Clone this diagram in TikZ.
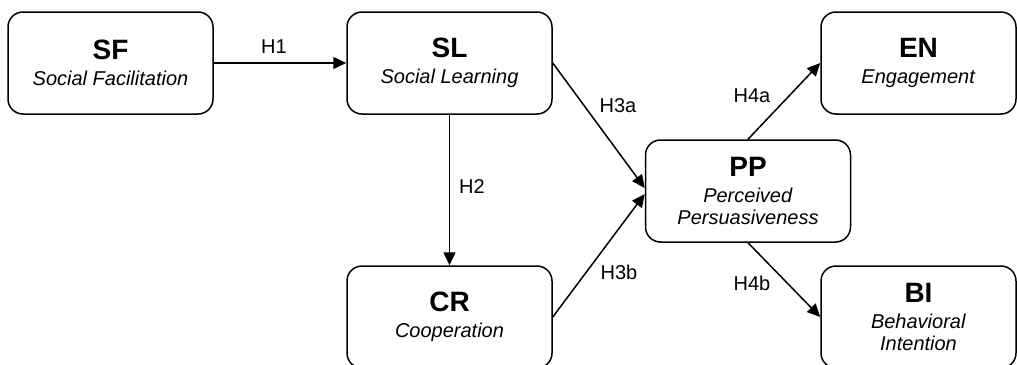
\documentclass[tikz,border=0pt]{standalone}
\usepackage{fontspec}
\setmainfont{Liberation Sans}
\usetikzlibrary{arrows.meta}

\begin{document}
\begin{tikzpicture}[x=0.5pt, y=-0.5pt, line width=0.75pt,
  box/.style={draw, rounded corners=7.5pt, minimum width=102.5pt, minimum height=51pt,
    inner sep=0pt, align=center, font=\fontsize{10}{11}\selectfont},
  conn/.style={-{Triangle[length=6.5pt, width=6pt]}},
  lbl/.style={font=\fontsize{10}{12}\selectfont, inner sep=0pt}]
  \useasboundingbox (0,0) rectangle (1017,364);
  % constructs
  \node[box] (SF) at (110.5,63) {{\fontsize{14}{14}\selectfont\bfseries SF}\\[2pt]\textit{Social Facilitation}};
  \node[box] (SL) at (449.5,63) {{\fontsize{14}{14}\selectfont\bfseries SL}\\[2pt]\textit{Social Learning}};
  \node[box] (CR) at (449.5,317) {{\fontsize{14}{14}\selectfont\bfseries CR}\\[2pt]\textit{Cooperation}};
  \node[box] (PP) at (748,191) {{\fontsize{14}{14}\selectfont\bfseries PP}\\[2pt]\textit{Perceived}\\\textit{Persuasiveness}};
  \node[box, minimum width=97.5pt] (EN) at (918.5,63) {{\fontsize{14}{14}\selectfont\bfseries EN}\\[2pt]\textit{Engagement}};
  \node[box, minimum width=97.5pt] (BI) at (918.5,317) {{\fontsize{14}{14}\selectfont\bfseries BI}\\[2pt]\textit{Behavioral}\\\textit{Intention}};
  % hypotheses
  \draw[conn] (SF) -- (SL);
  \draw[conn] (SL) -- (CR);
  \draw[conn] (SL.east) -- ([yshift=1.5pt]PP.west);
  \draw[conn] (CR.east) -- ([yshift=-1.5pt]PP.west);
  \draw[conn] (PP.north) -- (EN.west);
  \draw[conn] (PP.south) -- (BI.west);
  \node[lbl] (h1) at (274,47) {H1};
  \node[lbl] (h2) at (472,187) {H2};
  \node[lbl] (h3a) at (618,106) {H3a};
  \node[lbl] (h3b) at (619,272) {H3b};
  \node[lbl] (h4a) at (752,96) {H4a};
  \node[lbl] (h4b) at (752,283) {H4b};
\end{tikzpicture}
\end{document}
